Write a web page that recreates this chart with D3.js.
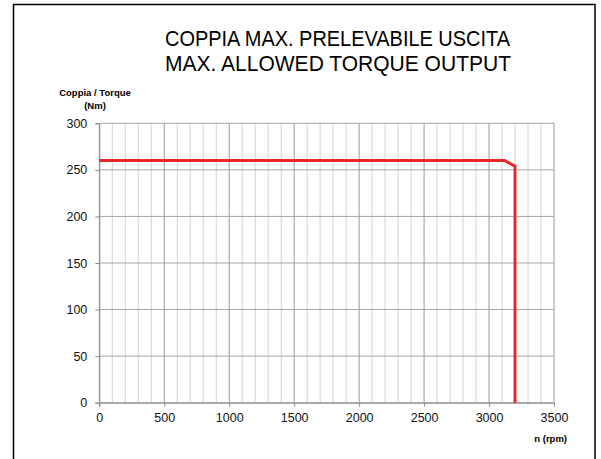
<!DOCTYPE html>
<html><head><meta charset="utf-8">
<script src="https://cdn.jsdelivr.net/npm/d3@7"></script>
<style>body{margin:0;background:#fff}svg{display:block}</style>
</head><body><svg id="c" width="601" height="459"></svg>
<script>
const titleLines = ["COPPIA MAX. PRELEVABILE USCITA", "MAX. ALLOWED TORQUE OUTPUT"];
const yTitle = ["Coppia / Torque", "(Nm)"];
const xTitle = "n (rpm)";
const rpm = [0, 3120, 3200, 3200];
const torque = [260, 260, 254, 0];
const xTicks = [0, 500, 1000, 1500, 2000, 2500, 3000, 3500];
const yTicks = [0, 50, 100, 150, 200, 250, 300];
const xMinor = d3.range(0, 3501, 100);

const svg = d3.select("#c");
const x = d3.scaleLinear().domain([0, 3500]).range([99.3, 554]);
const y = d3.scaleLinear().domain([0, 300]).range([402.7, 123.3]);
const font = "'Liberation Sans', Arial, sans-serif";

svg.append("rect").attr("x", 13.5).attr("y", 4.5).attr("width", 581.5).attr("height", 520)
  .attr("fill", "none").attr("stroke", "#000").attr("stroke-width", 1.5);

// title
svg.selectAll("text.title").data(titleLines).join("text").attr("class", "title")
  .attr("x", 165).attr("y", (d, i) => 45.5 + i * 25.5)
  .attr("textLength", (d, i) => i === 0 ? 345 : 346).attr("lengthAdjust", "spacingAndGlyphs")
  .attr("font-family", font).attr("font-size", 21.5)
  .attr("fill", "#000").text(d => d);

// grid: minor verticals
const g = svg.append("g");
g.selectAll("line.minor").data(xMinor.filter(v => v % 500 !== 0)).join("line")
  .attr("x1", d => x(d)).attr("x2", d => x(d)).attr("y1", y(300)).attr("y2", y(0))
  .attr("stroke", "#d2d2d2").attr("stroke-width", 1);
g.selectAll("line.hy").data(yTicks).join("line")
  .attr("x1", x(0)).attr("x2", x(3500)).attr("y1", d => y(d)).attr("y2", d => y(d))
  .attr("stroke", "#a6a6a6").attr("stroke-width", 1);
g.selectAll("line.major").data(xTicks).join("line")
  .attr("x1", d => x(d)).attr("x2", d => x(d)).attr("y1", y(300)).attr("y2", y(0))
  .attr("stroke", "#9a9a9a").attr("stroke-width", 1);

// axes
const xa = svg.append("g").attr("transform", `translate(0,${y(0)})`)
  .call(d3.axisBottom(x).tickValues(xTicks).tickSize(4).tickPadding(6).tickFormat(d3.format("d")));
const ya = svg.append("g").attr("transform", `translate(${x(0)},0)`)
  .call(d3.axisLeft(y).tickValues(yTicks).tickSize(4).tickPadding(8).tickFormat(d3.format("d")));
[xa, ya].forEach(a => {
  a.select(".domain").attr("stroke", "#8c8c8c");
  a.selectAll(".tick line").attr("stroke", "#8c8c8c");
  a.selectAll("text").attr("font-family", font).attr("font-size", 12.5).attr("fill", "#111");
});

// line
const line = d3.line().x(d => x(d[0])).y(d => y(d[1]));
svg.append("path").datum(rpm.map((r, i) => [r, torque[i]]))
  .attr("d", line).attr("fill", "none").attr("stroke", "#e8272a").attr("stroke-width", 3);

// axis titles
svg.selectAll("text.yt").data(yTitle).join("text").attr("class", "yt")
  .attr("x", 95).attr("y", (d, i) => 96 + i * 12.5).attr("text-anchor", "middle")
  .attr("font-family", font).attr("font-weight", "bold").attr("font-size", 9.5).attr("fill", "#000")
  .text(d => d);
svg.append("text").attr("x", 567).attr("y", 441.5).attr("text-anchor", "end")
  .attr("font-family", font).attr("font-weight", "bold").attr("font-size", 9.5).attr("fill", "#000")
  .text(xTitle);
</script></body></html>
